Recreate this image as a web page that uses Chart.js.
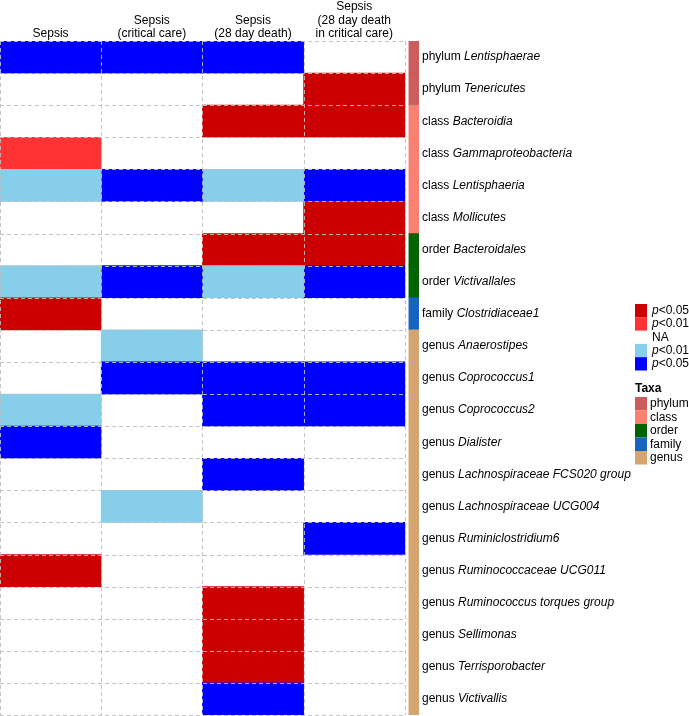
<!DOCTYPE html>
<html lang="en">
<head>
  <meta charset="UTF-8">
  <title>Sepsis taxa heatmap</title>
  <script src="https://cdn.jsdelivr.net/npm/chart.js"></script>
  <style>
    html, body { margin: 0; padding: 0; background: #fff; }
    #wrap { width: 689px; height: 716px; position: relative; }
  </style>
</head>
<body>
  <div id="wrap"><canvas id="heat"></canvas></div>
  <script>
    // column headers (multi-line)
    const columns = [
      ['Sepsis'],
      ['Sepsis', '(critical care)'],
      ['Sepsis', '(28 day death)'],
      ['Sepsis', '(28 day death', 'in critical care)']
    ];

    // taxa rank + name for each row
    const ranks = ['phylum', 'phylum', 'class', 'class', 'class', 'class', 'order', 'order', 'family',
      'genus', 'genus', 'genus', 'genus', 'genus', 'genus', 'genus', 'genus', 'genus', 'genus', 'genus', 'genus'];
    const taxa = ['Lentisphaerae', 'Tenericutes', 'Bacteroidia', 'Gammaproteobacteria', 'Lentisphaeria',
      'Mollicutes', 'Bacteroidales', 'Victivallales', 'Clostridiaceae1', 'Anaerostipes', 'Coprococcus1',
      'Coprococcus2', 'Dialister', 'Lachnospiraceae FCS020 group', 'Lachnospiraceae UCG004',
      'Ruminiclostridium6', 'Ruminococcaceae UCG011', 'Ruminococcus torques group', 'Sellimonas',
      'Terrisporobacter', 'Victivallis'];

    // cell category per column: 'up05', 'up01', 'NA', 'dn01', 'dn05'
    const sepsis      = ['dn05','NA','NA','up01','dn01','NA','NA','dn01','up05','NA','NA','dn01','dn05','NA','NA','NA','up05','NA','NA','NA','NA'];
    const sepsisCC    = ['dn05','NA','NA','NA','dn05','NA','NA','dn05','NA','dn01','dn05','NA','NA','NA','dn01','NA','NA','NA','NA','NA','NA'];
    const death28     = ['dn05','NA','up05','NA','dn01','NA','up05','dn01','NA','NA','dn05','dn05','NA','dn05','NA','NA','NA','up05','up05','up05','dn05'];
    const death28CC   = ['NA','up05','up05','NA','dn05','up05','up05','dn05','NA','NA','dn05','dn05','NA','NA','NA','dn05','NA','NA','NA','NA','NA'];
    const series = [sepsis, sepsisCC, death28, death28CC];

    const legendKeys = ['up05', 'up01', 'NA', 'dn01', 'dn05'];
    const legendLabels = ['<0.05', '<0.01', 'NA', '<0.01', '<0.05'];
    const cellColors = { up05: '#CC0000', up01: '#FF3333', NA: 'rgba(0,0,0,0)', dn01: '#87CEEB', dn05: '#0000FF' };

    const rankNames = ['phylum', 'class', 'order', 'family', 'genus'];
    const rankColors = { phylum: '#CD5C5C', class: '#FA8072', order: '#006400', family: '#1565C0', genus: '#D4A56E' };

    const FONT = 'Arial, "Liberation Sans", sans-serif';
    const rowLabels = ranks.map((r, i) => r + ' ' + taxa[i]);

    const datasets = series.map((vals, c) => ({
      label: columns[c].join(' '),
      data: vals.map(() => [c, c + 1]),
      backgroundColor: vals.map(v => cellColors[v]),
      borderWidth: 0,
      barPercentage: 1,
      categoryPercentage: 1,
      grouped: false
    }));
    // taxa side bar
    datasets.push({
      label: 'Taxa',
      data: ranks.map(() => [4.04, 4.14]),
      backgroundColor: ranks.map(r => rankColors[r]),
      borderWidth: 0,
      barPercentage: 1,
      categoryPercentage: 1,
      grouped: false
    });

    // grid, headers, row labels and legend
    const overlay = {
      id: 'overlay',
      afterDatasetsDraw(chart) {
        const ctx = chart.ctx;
        const xs = chart.scales.x, ys = chart.scales.y;
        const left = xs.getPixelForValue(0), right = xs.getPixelForValue(4);
        const top = chart.chartArea.top, bottom = chart.chartArea.bottom;
        const rowH = (bottom - top) / rowLabels.length;

        ctx.save();
        ctx.strokeStyle = 'rgba(190,190,190,0.9)';
        ctx.lineWidth = 1;
        ctx.setLineDash([4, 3]);
        for (let i = 0; i <= rowLabels.length; i++) {
          const y = Math.round(top + i * rowH) + 0.5;
          ctx.beginPath(); ctx.moveTo(left, y); ctx.lineTo(right, y); ctx.stroke();
        }
        for (let c = 0; c <= columns.length; c++) {
          const x = Math.round(xs.getPixelForValue(c)) + 0.5;
          ctx.beginPath(); ctx.moveTo(x, top); ctx.lineTo(x, bottom); ctx.stroke();
        }
        ctx.setLineDash([]);

        // column headers
        ctx.fillStyle = '#000';
        ctx.font = '12px ' + FONT;
        ctx.textAlign = 'center';
        ctx.textBaseline = 'middle';
        columns.forEach((lines, c) => {
          const cx = xs.getPixelForValue(c + 0.5);
          lines.forEach((t, k) => {
            const y = 34 - (lines.length - 1 - k) * 13.5;
            ctx.fillText(t, cx, y);
          });
        });

        // row labels
        ctx.textAlign = 'left';
        const lx = xs.getPixelForValue(4.14) + 3;
        rowLabels.forEach((lab, i) => {
          const y = ys.getPixelForValue(i);
          ctx.font = '12px ' + FONT;
          const pre = ranks[i] + ' ';
          ctx.fillText(pre, lx, y);
          const w = ctx.measureText(pre).width;
          ctx.font = 'italic 12px ' + FONT;
          ctx.fillText(taxa[i], lx + w, y);
        });

        // p-value legend
        const bx = 635, bw = 12, bh = 13.3;
        let y0 = 304;
        legendKeys.forEach((k, i) => {
          const y = y0 + i * bh;
          if (k !== 'NA') {
            ctx.fillStyle = cellColors[k];
            ctx.fillRect(bx, y, bw, bh);
          }
          ctx.fillStyle = '#000';
          if (k === 'NA') {
            ctx.font = '12px ' + FONT;
            ctx.fillText('NA', bx + 17, y + bh / 2);
          } else {
            ctx.font = 'italic 12px ' + FONT;
            ctx.fillText('p', bx + 17, y + bh / 2);
            const w = ctx.measureText('p').width;
            ctx.font = '12px ' + FONT;
            ctx.fillText(legendLabels[i], bx + 17 + w, y + bh / 2);
          }
        });

        // taxa legend
        ctx.font = 'bold 12px ' + FONT;
        ctx.fillText('Taxa', bx, 389);
        rankNames.forEach((r, i) => {
          const y = 397 + i * 13.5;
          ctx.fillStyle = rankColors[r];
          ctx.fillRect(bx, y, bw, 13.5);
          ctx.fillStyle = '#000';
          ctx.font = '12px ' + FONT;
          ctx.fillText(r, bx + 15, y + 6.75);
        });
        ctx.restore();
      }
    };

    const canvas = document.getElementById('heat');
    new Chart(canvas.getContext('2d'), {
      type: 'bar',
      data: { labels: rowLabels, datasets: datasets },
      options: {
        indexAxis: 'y',
        responsive: true,
        maintainAspectRatio: false,
        animation: false,
        layout: { padding: { left: 0, right: 270, top: 41, bottom: 1 } },
        plugins: { legend: { display: false }, tooltip: { enabled: false } },
        scales: {
          x: { type: 'linear', min: 0, max: 4.14, display: false },
          y: { type: 'category', display: false, offset: true }
        }
      },
      plugins: [overlay]
    });
  </script>
</body>
</html>
